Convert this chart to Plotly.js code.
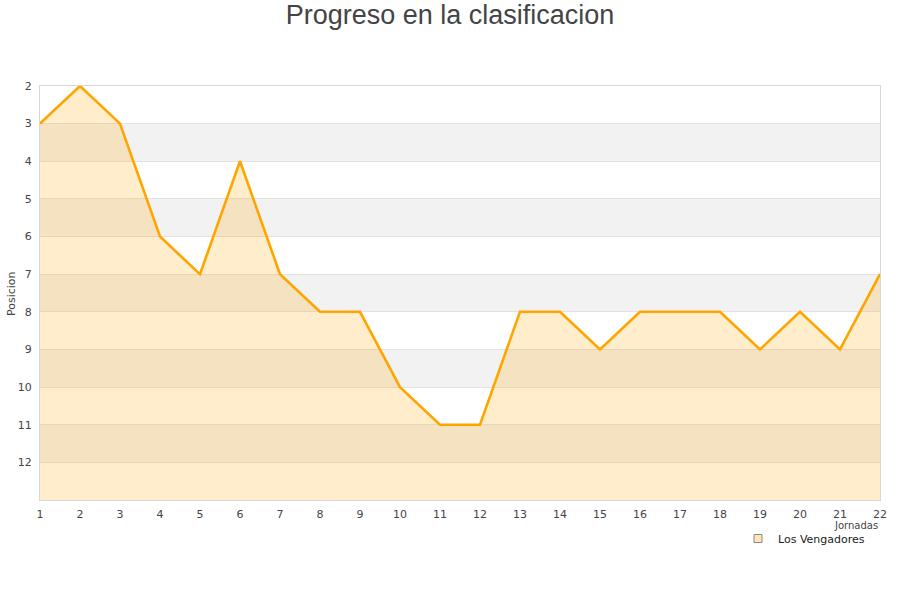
<!DOCTYPE html>
<html>
<head>
<meta charset="utf-8">
<script src="https://cdn.plot.ly/plotly-3.0.1.min.js"></script>
<style>html,body{margin:0;padding:0;background:#fff;}#chart{width:900px;height:600px;}</style>
</head>
<body>
<div id="chart"></div>
<script>
const jornadas = [1,2,3,4,5,6,7,8,9,10,11,12,13,14,15,16,17,18,19,20,21,22];
const posicion = [3,2,3,6,7,4,7,8,8,10,11,11,8,8,9,8,8,8,9,8,9,7];
const yTicks = [2,3,4,5,6,7,8,9,10,11,12];
const yMin = 2, yMax = 13;
const bandStarts = [3,5,7,9,11];
const serieNombre = 'Los Vengadores';

const base = {
  x: jornadas, y: jornadas.map(() => yMax),
  mode: 'lines', line: {width: 0, color: 'rgba(0,0,0,0)'},
  showlegend: false, hoverinfo: 'skip', type: 'scatter'
};
const main = {
  x: jornadas, y: posicion, mode: 'lines', type: 'scatter',
  fill: 'tonexty', fillcolor: 'rgba(255,165,0,0.2)',
  line: {color: '#ffa500', width: 2.6},
  showlegend: false, name: serieNombre
};
const legendItem = {
  x: [null], y: [null], mode: 'markers', type: 'scatter', name: serieNombre,
  marker: {symbol: 'square', size: 8, color: '#ffe6b8', line: {color: '#888', width: 1}}
};

const shapes = bandStarts.map(s => ({
  type: 'rect', xref: 'paper', yref: 'y', x0: 0, x1: 1, y0: s, y1: s + 1,
  fillcolor: '#f2f2f2', line: {width: 0}, layer: 'below'
}));

const layout = {
  width: 900, height: 600,
  margin: {l: 40, r: 20, t: 86, b: 100},
  paper_bgcolor: '#fff', plot_bgcolor: '#fff',
  font: {family: 'DejaVu Sans', size: 11, color: '#444'},
  title: {text: 'Progreso en la clasificacion', x: 0.5, xanchor: 'center',
          y: 0.975, yref: 'container', yanchor: 'middle',
          font: {family: 'Liberation Sans', size: 27, color: '#444'}},
  xaxis: {range: [1, 22], tickvals: jornadas, showgrid: false, zeroline: false,
          showline: true, linecolor: '#d8d8d8', linewidth: 1, mirror: true,
          ticks: '', ticklen: 0, ticklabelstandoff: 4,
          tickfont: {size: 11, color: '#444'}, fixedrange: true},
  yaxis: {range: [yMax, yMin], tickvals: yTicks, showgrid: true, gridcolor: '#e2e2e2',
          zeroline: false, showline: true, linecolor: '#d8d8d8', linewidth: 1, mirror: true,
          ticks: '', ticklabelstandoff: 5,
          tickfont: {size: 11, color: '#444'}, fixedrange: true},
  shapes: shapes,
  annotations: [
    {text: 'Posicion', textangle: -90, xref: 'paper', yref: 'paper',
     x: (11 - 40) / 840, y: 0.5, xanchor: 'center', yanchor: 'middle', showarrow: false,
     font: {size: 11, color: '#444'}},
    {text: 'Jornadas', xref: 'paper', yref: 'paper', x: 1, y: (500 - 525) / 414,
     xanchor: 'right', yanchor: 'middle', showarrow: false, font: {size: 10, color: '#444'}}
  ],
  showlegend: true,
  legend: {x: (870 - 40) / 840, xanchor: 'right', y: (500 - 524) / 414, yanchor: 'top',
           bgcolor: 'rgba(255,255,255,0)', borderwidth: 0, font: {size: 11, color: '#222'},
           itemwidth: 30}
};

Plotly.newPlot('chart', [base, main, legendItem], layout, {displayModeBar: false, staticPlot: true});
</script>
</body>
</html>
